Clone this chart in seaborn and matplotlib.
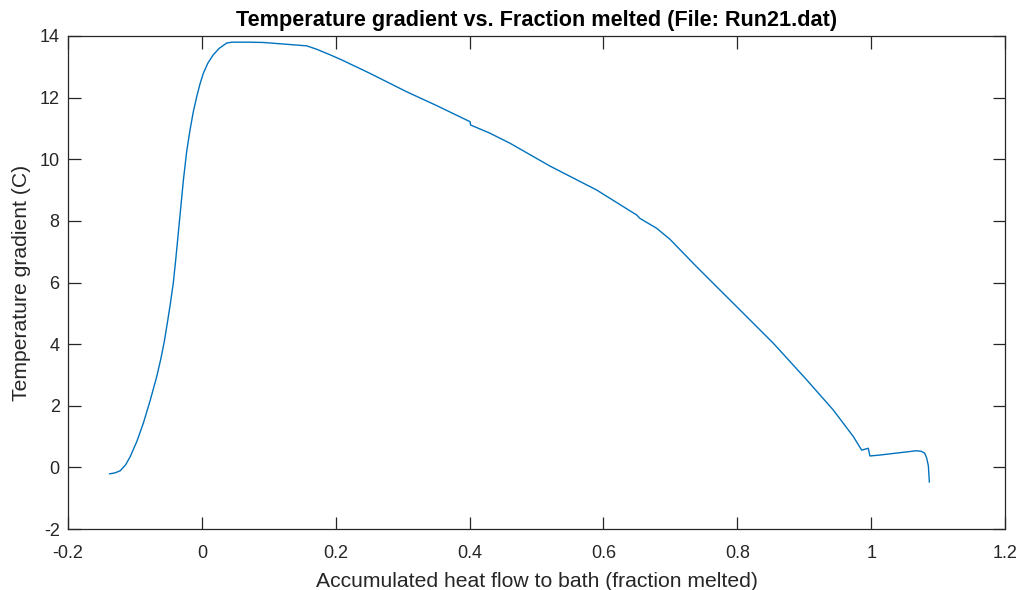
import matplotlib
matplotlib.use("Agg")
import matplotlib.pyplot as plt
import seaborn as sns
import pandas as pd

# Data
fraction_melted = [
    -0.138, -0.130, -0.122, -0.114, -0.107, -0.097, -0.0875, -0.0775, -0.0675,
    -0.061, -0.056, -0.0515, -0.0475, -0.0427, -0.039, -0.035, -0.0310, -0.0277,
    -0.0227, -0.0177, -0.0127, -0.0077, -0.0027, 0.0022, 0.009, 0.017, 0.026,
    0.037, 0.045, 0.052, 0.070, 0.0918, 0.1217, 0.1567, 0.1716, 0.1915,
    0.2064, 0.250, 0.306, 0.350, 0.4006, 0.4016, 0.430, 0.4604, 0.520,
    0.590, 0.6497, 0.6546, 0.6795, 0.6995, 0.7393, 0.804, 0.8538, 0.9037,
    0.9435, 0.9734, 0.9858, 0.9957, 0.9982, 1.013, 1.0678, 1.075, 1.080,
    1.083, 1.0855, 1.087,
]
temp_gradient = [
    -0.21, -0.18, -0.11, 0.08, 0.35, 0.85, 1.43, 2.15, 2.94,
    3.55, 4.10, 4.70, 5.25, 5.98, 6.75, 7.65, 8.55, 9.30,
    10.25, 10.95, 11.55, 12.03, 12.45, 12.79, 13.12, 13.39, 13.60,
    13.77, 13.80, 13.80, 13.80, 13.79, 13.74, 13.68, 13.57, 13.39,
    13.25, 12.80, 12.19, 11.75, 11.22, 11.11, 10.85, 10.52, 9.78,
    9.00, 8.19, 8.08, 7.76, 7.40, 6.51, 5.11, 4.03, 2.84,
    1.86, 1.00, 0.56, 0.62, 0.37, 0.40, 0.54, 0.52, 0.46,
    0.30, 0.05, -0.48,
]

title = "Temperature gradient vs. Fraction melted (File: Run21.dat)"
xlabel = "Accumulated heat flow to bath (fraction melted)"
ylabel = "Temperature gradient (C)"
x_ticks = [-0.2, 0, 0.2, 0.4, 0.6, 0.8, 1, 1.2]
x_tick_labels = ["-0.2", "0", "0.2", "0.4", "0.6", "0.8", "1", "1.2"]
y_ticks = [-2, 0, 2, 4, 6, 8, 10, 12, 14]
y_tick_labels = ["-2", "0", "2", "4", "6", "8", "10", "12", "14"]

df = pd.DataFrame({"x": fraction_melted, "y": temp_gradient})

sns.set_theme(style="white")
plt.rcParams["font.family"] = ["Liberation Sans", "DejaVu Sans"]
plt.rcParams["axes.unicode_minus"] = False

fig = plt.figure(figsize=(10.2, 5.9), dpi=100)
ax = fig.add_axes([68 / 1020, 1 - 529 / 590, (1005 - 68) / 1020, (529 - 36) / 590])

sns.lineplot(data=df, x="x", y="y", ax=ax, sort=False, estimator=None,
             color="#0072BD", linewidth=1.0)

ax.set_xlim(-0.2, 1.2)
ax.set_ylim(-2, 14)
ax.set_xticks(x_ticks)
ax.set_xticklabels(x_tick_labels)
ax.set_yticks(y_ticks)
ax.set_yticklabels(y_tick_labels)

axis_color = "#262626"
for s in ax.spines.values():
    s.set_visible(True)
    s.set_color(axis_color)
    s.set_linewidth(0.9)

ax.tick_params(direction="in", length=9, width=0.9, color=axis_color,
               labelcolor=axis_color, labelsize=13, top=True, right=True,
               bottom=True, left=True)
ax.tick_params(axis="x", pad=11.5)
ax.tick_params(axis="y", pad=6)

ax.set_title(title, fontsize=15.6, fontweight="bold", color="black", pad=7)
ax.set_xlabel(xlabel, fontsize=15.2, color=axis_color, labelpad=7)
ax.set_ylabel(ylabel, fontsize=15.2, color=axis_color, labelpad=6)

fig.savefig("out.png", dpi=100)
